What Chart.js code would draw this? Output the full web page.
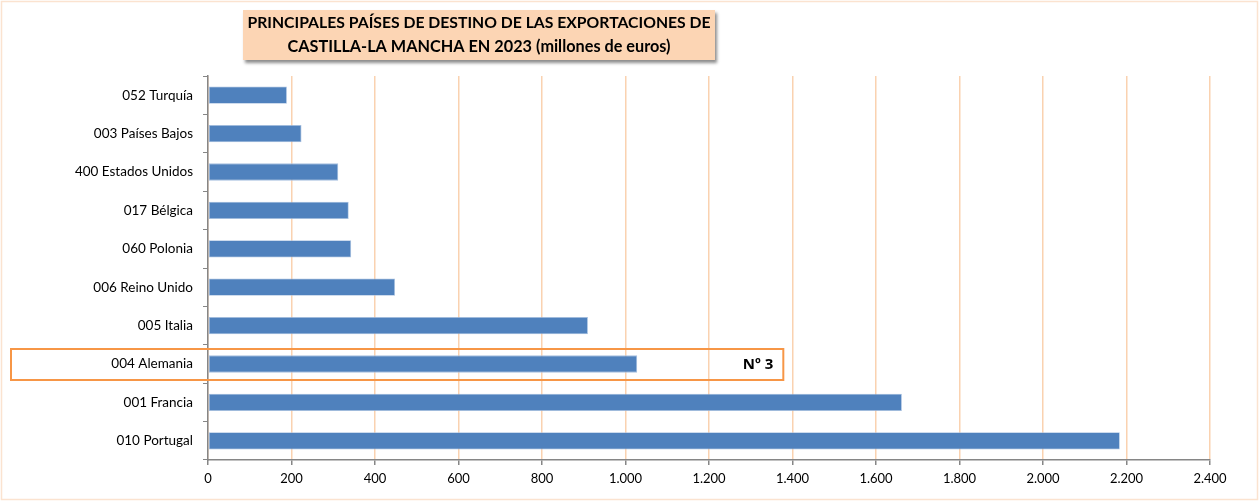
<!DOCTYPE html>
<html>
<head>
<meta charset="utf-8">
<script src="https://cdn.jsdelivr.net/npm/chart.js@4"></script>
<style>
  html, body { margin: 0; padding: 0; background: #fff; }
  #wrap { width: 1260px; height: 503px; }
</style>
</head>
<body>
<div id="wrap"><canvas id="myChart" width="1260" height="503"></canvas></div>
<script>
var countries = ['052 Turquía', '003 Países Bajos', '400 Estados Unidos', '017 Bélgica', '060 Polonia',
                 '006 Reino Unido', '005 Italia', '004 Alemania', '001 Francia', '010 Portugal'];
var exports2023 = [189, 224, 312, 337, 343, 448, 910, 1028, 1662, 2184];
var titleLines = ['PRINCIPALES PAÍSES DE DESTINO DE LAS EXPORTACIONES DE', 'CASTILLA-LA MANCHA EN 2023 (millones de euros)'];
var highlightIndex = 7;
var highlightLabel = 'Nº 3';

var FONT = 'Lato, "Open Sans", sans-serif';

function fmt(v) {
    return String(v).replace(/\B(?=(\d{3})+(?!\d))/g, '.');
}

// frame, title box and the highlighted row
var decorations = {
    id: 'decorations',
    beforeDraw(chart) {
        var ctx = chart.ctx;
        ctx.save();
        ctx.strokeStyle = '#FBE3D0';
        ctx.lineWidth = 1.5;
        ctx.strokeRect(1.5, 1.5, 1256, 498);
        ctx.restore();
    },
    afterDraw(chart) {
        var ctx = chart.ctx;
        var x = chart.scales.x, y = chart.scales.y;

        // title box
        ctx.save();
        ctx.shadowColor = 'rgba(0,0,0,0.45)';
        ctx.shadowBlur = 3;
        ctx.shadowOffsetX = 2;
        ctx.shadowOffsetY = 3;
        ctx.fillStyle = '#FCD5B4';
        ctx.fillRect(243, 10, 472, 50);
        ctx.restore();

        ctx.save();
        ctx.fillStyle = '#000';
        ctx.textAlign = 'center';
        ctx.textBaseline = 'middle';
        var size = 16;
        ctx.font = 'bold ' + size + 'px ' + FONT;
        while (ctx.measureText(titleLines[0]).width > 464 && size > 8) {
            size -= 0.25;
            ctx.font = 'bold ' + size + 'px ' + FONT;
        }
        ctx.fillText(titleLines[0], 479, 23);
        ctx.font = 'bold ' + (size + 0.5) + 'px ' + FONT;
        ctx.fillText(titleLines[1], 479, 47);
        ctx.restore();

        // highlight box
        var cy = y.getPixelForValue(highlightIndex);
        var right = x.getPixelForValue(1378);
        ctx.save();
        ctx.strokeStyle = '#F79646';
        ctx.lineWidth = 2;
        ctx.strokeRect(11, cy - 15, right - 11, 31);
        ctx.fillStyle = '#000';
        ctx.font = 'bold 15px "Open Sans", sans-serif';
        ctx.textAlign = 'right';
        ctx.textBaseline = 'middle';
        ctx.fillText(highlightLabel, right - 10, cy + 1);
        ctx.restore();
    }
};

var ctx = document.getElementById('myChart').getContext('2d');
var myChart = new Chart(ctx, {
    type: 'bar',
    data: {
        labels: countries,
        datasets: [{
            label: 'Exportaciones 2023',
            data: exports2023,
            backgroundColor: '#4F81BD',
            borderColor: '#A7C0E0',
            borderWidth: 0.8,
            borderSkipped: false,
            barPercentage: 0.9,
            categoryPercentage: 0.5
        }]
    },
    options: {
        indexAxis: 'y',
        responsive: false,
        animation: false,
        layout: { padding: { left: 0, right: 50, top: 76, bottom: 13 } },
        plugins: {
            legend: { display: false },
            title: { display: false },
            tooltip: { enabled: false }
        },
        scales: {
            x: {
                min: 0,
                max: 2400,
                afterFit(scale) { scale.height = 30; },
                ticks: {
                    stepSize: 200,
                    color: '#000',
                    padding: 6,
                    font: { family: FONT, size: 13 },
                    callback: function (v) { return fmt(v); }
                },
                grid: {
                    color: '#FAD2B0',
                    tickColor: '#868686',
                    tickLength: 5,
                    lineWidth: 1.5
                },
                border: { color: '#868686', width: 1.5 }
            },
            y: {
                afterFit(scale) { scale.width = 208; },
                ticks: {
                    color: '#000',
                    padding: 10,
                    font: { family: FONT, size: 13.5 }
                },
                grid: {
                    drawOnChartArea: false,
                    tickColor: '#868686',
                    tickLength: 5,
                    offset: true
                },
                border: { color: '#868686', width: 1.5 }
            }
        }
    },
    plugins: [decorations]
});
</script>
</body>
</html>
